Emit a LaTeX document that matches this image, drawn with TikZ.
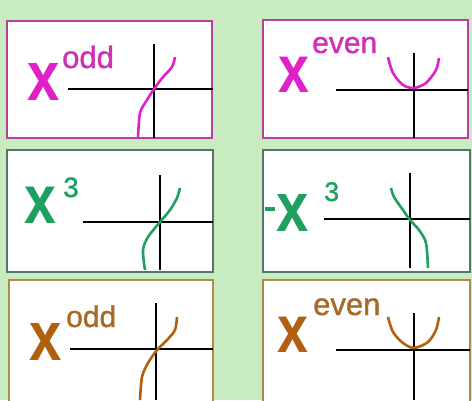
\documentclass[tikz,border=0pt]{standalone}
\usepackage{fontspec}
\setmainfont{Liberation Sans}
\newfontfamily\xfont[FakeStretch=0.83]{Liberation Sans Bold}
\newfontfamily\supfont[FakeBold=1.2]{Liberation Sans}
\definecolor{bggreen}{HTML}{C8ECC0}
\definecolor{magX}{HTML}{E020C8}
\definecolor{magS}{HTML}{D030B8}
\definecolor{magB}{HTML}{B84098}
\definecolor{grnX}{HTML}{20A060}
\definecolor{grnB}{HTML}{507868}
\definecolor{brnX}{HTML}{B06010}
\definecolor{brnS}{HTML}{A86A28}
\definecolor{brnB}{HTML}{B08848}
\begin{document}
\begin{tikzpicture}[x=1pt,y=-1pt,
  panel/.style={draw=#1,line width=1.5pt,fill=white},
  bigx/.style={anchor=base west,inner sep=0pt,font=\xfont\fontsize{#1}{#1}\selectfont},
  supx/.style={anchor=base west,inner sep=0pt,font=\supfont\fontsize{#1}{#1}\selectfont},
  axis/.style={line width=2.6pt,black},
  curve/.style={line width=2.6pt,#1}]
\fill[bggreen] (0,0) rectangle (472,400);
\useasboundingbox (0,0) rectangle (472,400);
% panels
\draw[panel=magB] (7,21) rectangle (212,138);
\draw[panel=magB] (263,20) rectangle (468,138);
\draw[panel=grnB] (7,150) rectangle (213,272);
\draw[panel=grnB] (263,150) rectangle (470,272);
\draw[panel=brnB] (9,280) rectangle (213,402);
\draw[panel=brnB] (263,280) rectangle (470,402);
% panel 1: x^odd
\node[bigx=70,text=magX] (x1) at (27,100) {x};
\node[supx=31,text=magS] (s1) at (62,68) {odd};
\draw[axis] (68,89) -- (213,89);
\draw[axis] (154,44) -- (154,138);
\draw[curve=magX] plot[smooth] coordinates {(138,138) (140,113) (147,100) (154,89) (163,77) (172,67) (175,57)};
% panel 2: x^even
\node[bigx=67,text=magX] (x2) at (278,92) {x};
\node[supx=30,text=magS] (s2) at (312,53) {even};
\draw[axis] (336,90) -- (468,90);
\draw[axis] (414,53) -- (414,138);
\draw[curve=magX] plot[smooth] coordinates {(388,57) (393,73) (403,85) (414,88) (426,83) (436,70) (439,58)};
% panel 3: x^3
\node[bigx=69,text=grnX] (x3) at (24,223) {x};
\node[supx=28,text=grnX] (s3) at (63,197) {3};
\draw[axis] (83,222) -- (213,222);
\draw[axis] (160,175) -- (160,270);
\draw[curve=grnX] plot[smooth] coordinates {(145,270) (143,250) (148,237) (160,222) (170,210) (177,198) (180,188)};
% panel 4: -x^3
\node[bigx=70,text=grnX] (x4) at (265,231) {\raisebox{20.5pt}{\rule{10pt}{3.2pt}}\kern1pt x};
\node[supx=27,text=grnX] (s4) at (324,201) {3};
\draw[axis] (324,219) -- (470,219);
\draw[axis] (410,173) -- (410,268);
\draw[curve=grnX] plot[smooth] coordinates {(391,188) (394,197) (403,210) (410,220) (419,230) (426,243) (428,268)};
% panel 5: x^odd
\node[bigx=70,text=brnX] (x5) at (29,360) {x};
\node[supx=30,text=brnS] (s5) at (66,327) {odd};
\draw[axis] (70,349) -- (213,349);
\draw[axis] (156,303) -- (156,400);
\draw[curve=brnX] plot[smooth] coordinates {(140,400) (142,377) (148,363) (157,350) (167,340) (175,330) (177,317)};
% panel 6: x^even
\node[bigx=67,text=brnX] (x6) at (277,352) {x};
\node[supx=31,text=brnS] (s6) at (313,315) {even};
\draw[axis] (336,350) -- (470,350);
\draw[axis] (414,313) -- (414,400);
\draw[curve=brnX] plot[smooth] coordinates {(388,317) (393,332) (403,343) (414,348) (428,342) (436,330) (439,317)};
\end{tikzpicture}
\end{document}
